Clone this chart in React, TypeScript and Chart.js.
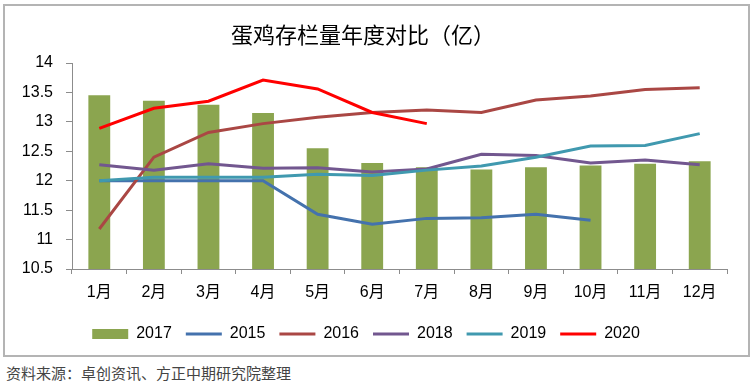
import { useEffect, useRef } from "react";
import { Chart, registerables } from "chart.js";

Chart.register(...registerables);

const months = ["1月", "2月", "3月", "4月", "5月", "6月", "7月", "8月", "9月", "10月", "11月", "12月"];
const v2017 = [13.45, 13.36, 13.29, 13.15, 12.55, 12.3, 12.23, 12.19, 12.23, 12.26, 12.29, 12.33];
const v2015 = [12.0, 12.0, 12.0, 12.0, 11.43, 11.26, 11.36, 11.37, 11.43, 11.33, null, null];
const v2016 = [11.18, 12.4, 12.82, 12.97, 13.08, 13.16, 13.2, 13.16, 13.37, 13.44, 13.55, 13.58];
const v2018 = [12.27, 12.18, 12.29, 12.21, 12.22, 12.15, 12.2, 12.45, 12.43, 12.3, 12.35, 12.27];
const v2019 = [12.0, 12.06, 12.06, 12.06, 12.11, 12.09, 12.18, 12.25, 12.4, 12.59, 12.6, 12.8];
const v2020 = [12.89, 13.23, 13.35, 13.71, 13.56, 13.16, 12.97, null, null, null, null, null];

const FONT = "'Liberation Sans', 'Noto Sans CJK SC', sans-serif";
const AXIS = "#8c8c8c";

export default function App() {
  const ref = useRef<HTMLCanvasElement | null>(null);

  useEffect(() => {
    if (!ref.current) return;
    const line = (label: string, data: (number | null)[], color: string, order: number) => ({
      type: "line" as const,
      label,
      data,
      borderColor: color,
      backgroundColor: color,
      borderWidth: 3,
      pointRadius: 0,
      pointHoverRadius: 0,
      tension: 0,
      spanGaps: false,
      order,
    });
    const chart = new Chart(ref.current, {
      type: "bar",
      data: {
        labels: months,
        datasets: [
          {
            type: "bar" as const,
            label: "2017",
            data: v2017,
            backgroundColor: "#8BA54F",
            borderWidth: 0,
            categoryPercentage: 1,
            barPercentage: 0.4,
            order: 10,
          },
          line("2015", v2015, "#4472AD", 5),
          line("2016", v2016, "#AA4744", 4),
          line("2018", v2018, "#72578F", 3),
          line("2019", v2019, "#4099AF", 2),
          line("2020", v2020, "#FF0000", 1),
        ] as any,
      },
      options: {
        responsive: false,
        animation: false,
        layout: { padding: { top: 57, right: 21, bottom: 3, left: 0 } },
        plugins: {
          title: { display: false },
          tooltip: { enabled: false },
          legend: {
            position: "bottom",
            labels: {
              usePointStyle: true,
              pointStyleWidth: 36,
              boxHeight: 10,
              padding: 14,
              color: "#000",
              font: { family: FONT, size: 16 },
              sort: (a: any, b: any) => a.datasetIndex - b.datasetIndex,
              generateLabels: (c: any) =>
                Chart.defaults.plugins.legend.labels.generateLabels(c).map((l: any) =>
                  l.datasetIndex === 0
                    ? { ...l, pointStyle: "rect", lineWidth: 0 }
                    : { ...l, pointStyle: "line", lineWidth: 3 }
                ),
            },
          },
        },
        scales: {
          x: {
            offset: true,
            grid: {
              offset: true,
              drawOnChartArea: false,
              drawTicks: true,
              tickLength: 5,
              color: AXIS,
            },
            border: { color: AXIS, width: 1 },
            ticks: { color: "#000", font: { family: FONT, size: 16 }, padding: 9, maxRotation: 0 },
            afterFit: (s: any) => {
              s.height = 43;
            },
          },
          y: {
            min: 10.5,
            max: 14,
            grid: { drawOnChartArea: false, drawTicks: true, tickLength: 6, color: AXIS },
            border: { color: AXIS, width: 1 },
            ticks: {
              stepSize: 0.5,
              color: "#000",
              font: { family: FONT, size: 16 },
              padding: 13,
              callback: (v: any) => String(Math.round(Number(v) * 10) / 10),
            },
            afterFit: (s: any) => {
              s.width = 67;
            },
          },
        },
      },
    });
    return () => chart.destroy();
  }, []);

  return (
    <div style={{ position: "absolute", left: 0, top: 0, width: 753, height: 387, background: "#fff" }}>
      <div
        style={{
          position: "absolute",
          left: 3,
          top: 4,
          width: 743,
          height: 349,
          border: "2px solid #b4b4b4",
          background: "#fff",
        }}
      >
        <canvas ref={ref} width={743} height={349} style={{ display: "block", width: 743, height: 349 }} />
        <div
          style={{
            position: "absolute",
            left: 226,
            top: 12,
            lineHeight: "30px",
            fontSize: 22,
            fontFamily: "'Noto Sans CJK SC', sans-serif",
            color: "#000",
            whiteSpace: "nowrap",
          }}
        >
          蛋鸡存栏量年度对比（亿）
        </div>
      </div>
      <div
        style={{
          position: "absolute",
          left: 6,
          top: 363,
          lineHeight: "20px",
          fontSize: 15,
          fontFamily: "'Noto Sans CJK SC', sans-serif",
          color: "#444",
          whiteSpace: "nowrap",
        }}
      >
        资料来源：卓创资讯、方正中期研究院整理
      </div>
    </div>
  );
}
